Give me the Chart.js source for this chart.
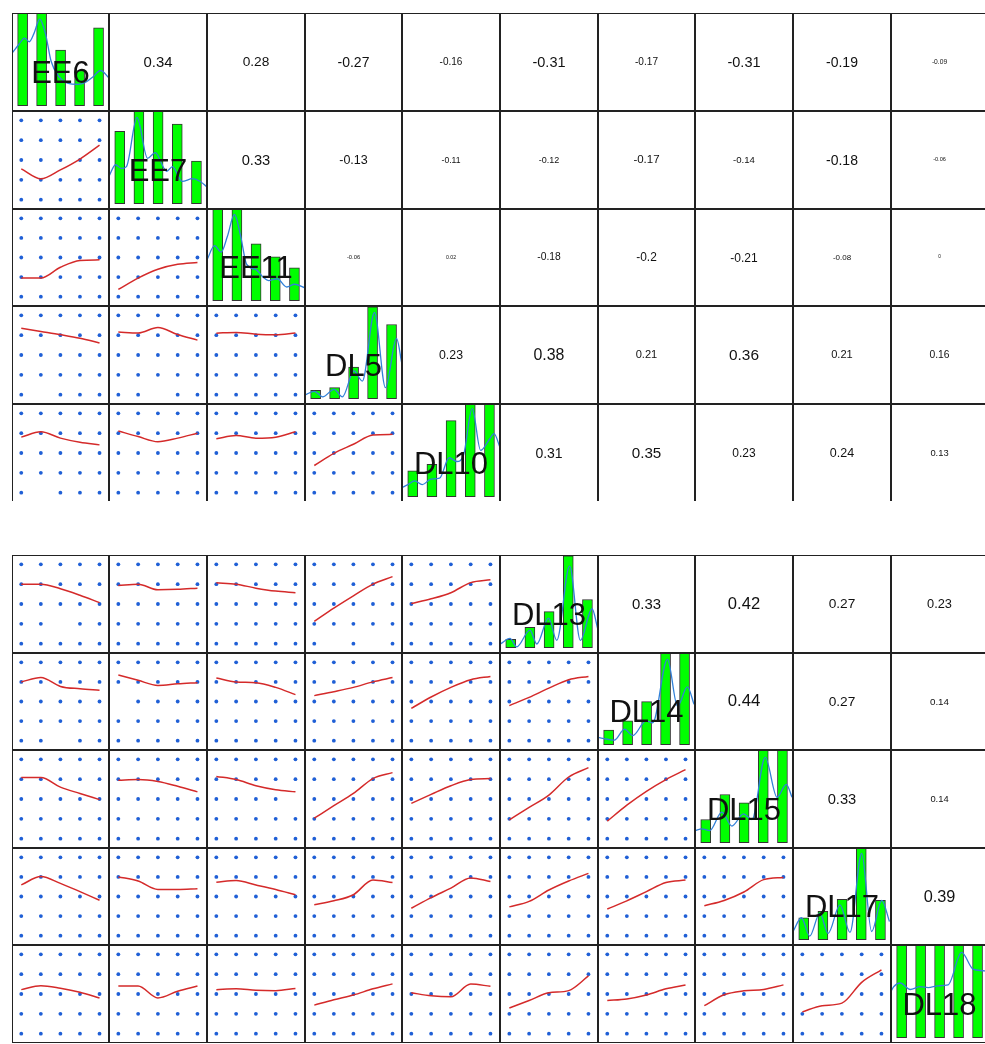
<!DOCTYPE html>
<html>
<head>
<meta charset="utf-8">
<script src="https://cdn.jsdelivr.net/npm/chart.js@4.4.1/dist/chart.umd.min.js"></script>
<style>
html,body{margin:0;padding:0;background:#fff;}
body{width:985px;height:1044px;position:relative;overflow:hidden;font-family:"Liberation Sans",Arial,Helvetica,sans-serif;}
.part{position:absolute;left:0;top:0;width:985px;overflow:hidden;}
.cell{position:absolute;overflow:hidden;background:#fff;}
.cell canvas{position:absolute;left:0;top:0;}
.frame{position:absolute;left:0;top:0;right:0;bottom:0;border:1px solid #222;box-sizing:border-box;}
.txt{position:absolute;left:0;top:0;right:0;bottom:0;display:flex;align-items:center;justify-content:center;}
.txt span{line-height:1;white-space:nowrap;color:#111;}
</style>
</head>
<body>
<script>
// ---------------- data ----------------
const variables = ['EE6','EE7','EE11','DL5','DL10','DL13','DL14','DL15','DL17','DL18'];
const likert = [1, 2, 3, 4, 5];

// upper triangle correlations, row i holds columns i+1..9
const corValues = [
  [0.34, 0.28, -0.27, -0.16, -0.31, -0.17, -0.31, -0.19, -0.09],
  [0.33, -0.13, -0.11, -0.12, -0.17, -0.14, -0.18, -0.06],
  [-0.06, 0.02, -0.18, -0.2, -0.21, -0.08, 0],
  [0.23, 0.38, 0.21, 0.36, 0.21, 0.16],
  [0.31, 0.35, 0.23, 0.24, 0.13],
  [0.33, 0.42, 0.27, 0.23],
  [0.44, 0.27, 0.14],
  [0.33, 0.14],
  [0.39]
];

// histogram bar heights (relative) at likert 1..5
const histHeights = [
  [1.15, 1.2, 0.60, 0.38, 0.84],
  [0.78, 1.2, 1.2, 0.86, 0.46],
  [1.2, 1.2, 0.62, 0.48, 0.36],
  [0.09, 0.12, 0.34, 0.99, 0.80],
  [0.28, 0.35, 0.82, 1.2, 1.2],
  [0.09, 0.22, 0.39, 0.99, 0.52],
  [0.16, 0.26, 0.47, 1.2, 1.2],
  [0.25, 0.52, 0.43, 1.2, 1.2],
  [0.24, 0.31, 0.44, 1.0, 0.43],
  [1.1, 1.15, 1.1, 1.2, 1.15]
];

// density curves (x, relative height)
const densityX = [
  [0.45,0.8,1.1,1.35,1.6,1.9,2.2,2.5,2.9,3.4,3.9,4.3,4.7,5.1,5.55],
  [0.45,0.78,1.1,1.35,1.9,2.45,2.85,3.45,3.75,4.25,4.8,5.2,5.55],
  [0.45,0.83,1.18,1.5,1.87,2.2,2.5,3.0,3.4,3.65,4.1,4.6,5.0,5.55],
  [0.44,0.93,1.37,1.97,2.41,3.02,3.46,4.1,4.68,5.26,5.55],
  [0.44,0.75,1.1,1.5,1.95,2.4,2.9,3.3,3.65,4.1,4.54,5.0,5.24,5.55],
  [0.46,0.96,1.31,2.0,2.36,2.97,3.4,4.07,4.63,5.24,5.53],
  [0.44,0.96,1.3,1.84,2.27,2.97,3.32,4.1,4.63,5.15,5.5],
  [0.45,0.8,1.2,1.84,2.36,2.97,3.41,4.1,4.72,5.2,5.5],
  [0.44,0.88,1.31,1.84,2.27,2.89,3.41,4.02,4.54,5.07,5.47],
  [0.44,0.58,0.93,1.45,1.97,2.4,2.93,3.45,4.16,4.76,5.37,5.55]
];
const densityY = [
  [0.57,0.66,0.73,0.69,0.78,0.935,0.78,0.48,0.32,0.24,0.23,0.25,0.31,0.38,0.30],
  [0.30,0.42,0.38,0.40,0.93,0.49,0.55,0.35,0.40,0.24,0.27,0.24,0.18],
  [0.45,0.60,0.53,0.70,0.94,0.70,0.40,0.34,0.25,0.22,0.24,0.15,0.18,0.14],
  [0.04,0.08,0.02,0.10,0.02,0.30,0.19,0.93,0.12,0.65,0.37],
  [0.10,0.13,0.17,0.13,0.19,0.20,0.42,0.38,0.45,0.95,0.50,0.62,0.68,0.53],
  [0.04,0.10,0.01,0.19,0.04,0.32,0.08,0.88,0.08,0.42,0.21],
  [0.08,0.06,0.05,0.17,0.10,0.26,0.24,0.93,0.42,0.63,0.44],
  [0.13,0.15,0.13,0.33,0.18,0.31,0.25,0.92,0.49,0.63,0.49],
  [0.09,0.24,0.04,0.29,0.07,0.38,0.08,0.94,0.09,0.43,0.20],
  [0.50,0.55,0.59,0.52,0.55,0.54,0.56,0.57,0.92,0.74,0.72,0.70]
];

// loess smooths, row i (i>=1) holds columns 0..i-1, values at likert 1..5
const loessRows = [
  [],
  [[2.55,2.05,2.5,3.05,3.75]],
  [[1.95,1.95,2.5,2.85,2.88],[1.37,1.95,2.4,2.65,2.75]],
  [[4.35,4.19,4.03,3.85,3.61],[4.16,4.11,4.39,4.03,3.75],[4.1,4.14,4.05,4.02,4.11]],
  [[3.8,4.07,3.75,3.54,3.41],[4.11,3.83,3.57,3.75,4.0],[3.72,3.88,3.75,3.8,4.07],[2.37,2.98,3.44,3.91,3.94]],
  [[4.0,4.0,3.77,3.44,3.07],[3.93,4.0,3.72,3.74,3.8],[4.07,4.0,3.8,3.65,3.57],[2.12,2.79,3.41,4.0,4.38],[3.02,3.26,3.57,4.08,4.22]],
  [[4.0,4.22,3.77,3.65,3.58],[4.35,4.08,3.82,3.9,3.96],[4.2,4.0,3.96,3.72,3.35],[3.3,3.5,3.72,4.0,4.22],[2.65,3.23,3.72,4.11,4.28],[2.79,3.21,3.68,4.11,4.28]],
  [[4.09,4.09,3.6,3.28,2.97],[3.94,3.98,3.88,3.64,3.36],[4.14,3.98,3.67,3.47,3.36],[2.03,2.66,3.28,4.03,4.33],[2.78,3.23,3.67,3.98,4.03],[1.95,2.58,3.2,4.11,4.58],[1.88,2.69,3.39,3.98,4.48]],
  [[3.59,4.02,3.67,3.25,2.81],[4.0,3.79,3.36,3.36,3.4],[3.73,3.81,3.59,3.36,3.09],[2.58,2.78,3.09,3.84,3.71],[2.4,2.94,3.43,3.95,3.76],[2.47,2.75,3.33,3.79,4.18],[2.36,2.78,3.25,3.71,3.84],[2.53,2.8,3.23,3.86,3.97]],
  [[3.22,3.42,3.29,3.09,2.8],[3.4,3.4,2.8,3.14,3.4],[3.22,3.26,3.19,3.17,3.28],[2.44,2.71,2.95,3.26,3.51],[3.06,2.91,2.86,3.5,3.39],[2.29,2.67,3.06,3.17,3.91],[2.67,2.75,2.95,3.26,3.45],[2.41,2.96,3.16,3.23,3.46],[2.1,2.41,2.54,3.59,4.22]]
];

// response combinations absent from a scatter panel: [row, col, x, y]
const missingPoints = [
  [3,0,2,1],[3,1,3,1],[4,0,2,1],[5,0,3,2],[5,3,2,1],[5,3,4,1],[6,0,3,1],[6,1,1,3],[7,2,5,3]
];

// ---------------- styling / layout ----------------
const corFontPx = [
  [14.9, 13.7, 14, 10, 14.5, 10.1, 14.5, 14, 6.7],
  [14.7, 12.5, 8.6, 9, 11.5, 9.6, 14, 5.6],
  [5.8, 5.2, 10.3, 11.9, 12, 8, 4.7],
  [12.3, 15.9, 11.1, 15.4, 11.1, 10.3],
  [14, 15.2, 12, 12.5, 9.4],
  [14.9, 16.6, 13.7, 12.8],
  [16.8, 13.7, 9.8],
  [14.7, 9.4],
  [16.3]
];
const COLW = 97.67;
const colX = j => 11.5 + j * COLW;
const rowTop = i => i < 5 ? 13.3 + i * 97.7 : 555 + (i - 5) * 97.55;
const rowBottom = i => i < 5 ? 13.3 + (i + 1) * 97.7 : 555 + (i - 4) * 97.55;

const botPart = document.createElement('div');
botPart.className = 'part'; botPart.style.height = '1044px';
const topPart = document.createElement('div');
topPart.className = 'part'; topPart.style.height = '501px';
document.body.appendChild(botPart);
document.body.appendChild(topPart);

const baseOpts = (xmin, xmax, ymin, ymax) => ({
  animation: false, responsive: false, events: [],
  devicePixelRatio: 1,
  layout: { padding: 0 },
  plugins: { legend: { display: false }, tooltip: { enabled: false } },
  scales: {
    x: { type: 'linear', display: false, min: xmin, max: xmax, offset: false },
    y: { type: 'linear', display: false, min: ymin, max: ymax }
  }
});

function makeCell(i, j) {
  const L = Math.round(colX(j)), R = Math.round(colX(j + 1));
  const T = Math.round(rowTop(i)), B = Math.round(rowBottom(i));
  const w = R - L, h = B - T;
  const cell = document.createElement('div');
  cell.className = 'cell';
  Object.assign(cell.style, { left: L + 'px', top: T + 'px', width: w + 'px', height: h + 'px' });
  (i < 5 ? topPart : botPart).appendChild(cell);
  return { cell, w, h };
}

function addFrame(cell) {
  const f = document.createElement('div'); f.className = 'frame'; cell.appendChild(f);
}

function addText(cell, str, px, dy) {
  const t = document.createElement('div'); t.className = 'txt';
  const s = document.createElement('span');
  s.textContent = str; s.style.fontSize = px + 'px';
  if (dy) s.style.transform = 'translateY(' + dy + 'px)';
  t.appendChild(s); cell.appendChild(t);
}

function newCanvas(cell, w, h) {
  const c = document.createElement('canvas');
  c.width = w; c.height = h; c.style.width = w + 'px'; c.style.height = h + 'px';
  cell.appendChild(c);
  return c;
}

for (let i = 0; i < variables.length; i++) {
  for (let j = 0; j < variables.length; j++) {
    const { cell, w, h } = makeCell(i, j);
    if (i === j) {
      const c = newCanvas(cell, w, h);
      const bars = likert.map((v, k) => ({ x: v, y: histHeights[i][k] }));
      const dens = densityX[i].map((x, k) => ({ x, y: densityY[i][k] }));
      new Chart(c, {
        type: 'bar',
        data: { datasets: [
          { type: 'line', data: dens, borderColor: '#3280d8', borderWidth: 1.3, pointRadius: 0,
            cubicInterpolationMode: 'monotone', fill: false, order: 0 },
          { type: 'bar', data: bars, backgroundColor: '#00ff00', borderColor: '#333',
            borderWidth: 1, borderSkipped: false, barThickness: 10, order: 1 }
        ] },
        options: baseOpts(0.44, 5.55, -0.057, 1.0)
      });
      addText(cell, variables[i], 31, 10);
    } else if (j > i) {
      const r = corValues[i][j - i - 1];
      addText(cell, String(r), corFontPx[i][j - i - 1], 0);
    } else {
      const c = newCanvas(cell, w, h);
      const miss = missingPoints.filter(m => m[0] === i && m[1] === j);
      const dots = [];
      likert.forEach(x => likert.forEach(y => {
        if (!miss.some(m => m[2] === x && m[3] === y)) dots.push({ x, y });
      }));
      const smooth = likert.map((x, k) => ({ x, y: loessRows[i][j][k] }));
      new Chart(c, {
        type: 'scatter',
        data: { datasets: [
          { type: 'line', data: smooth, borderColor: '#d42a2a', borderWidth: 1.5, pointRadius: 0,
            cubicInterpolationMode: 'monotone', fill: false, order: 0 },
          { type: 'scatter', data: dots, pointRadius: 1.9, pointBackgroundColor: '#1f5fd6',
            pointBorderWidth: 0, order: 1 }
        ] },
        options: baseOpts(0.73, 5.28, 0.73, 5.27)
      });
    }
    addFrame(cell);
  }
}
</script>
</body>
</html>
